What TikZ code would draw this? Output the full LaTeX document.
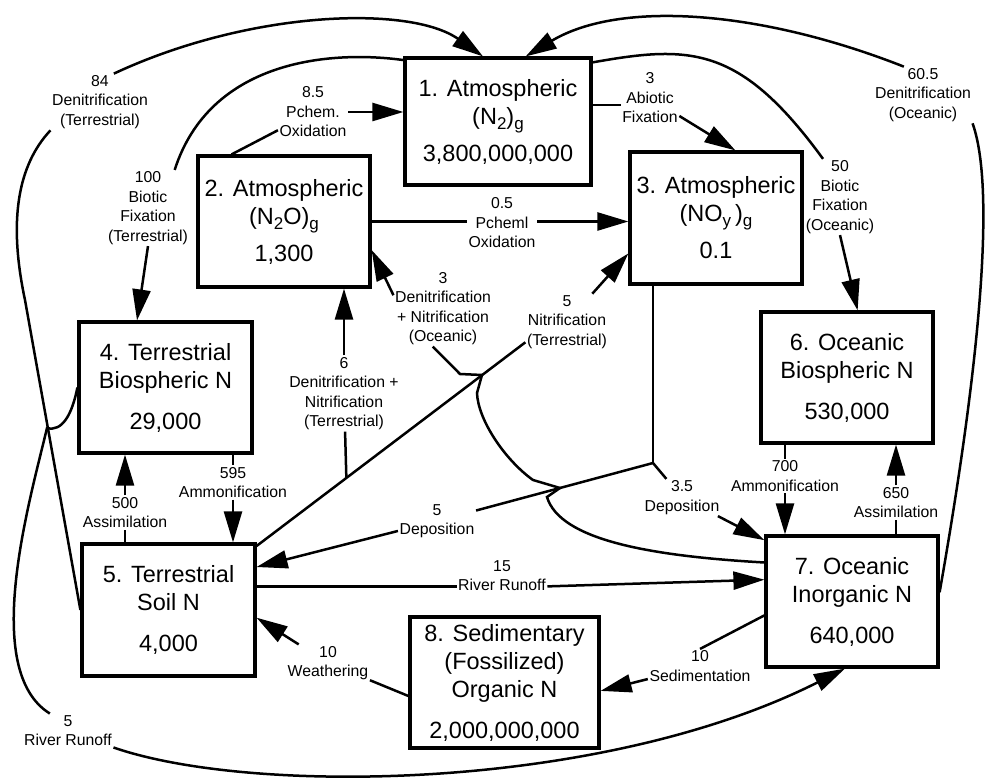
\documentclass[tikz,border=0pt]{standalone}
\usepackage{fontspec}
\setmainfont{Liberation Sans}
\usetikzlibrary{arrows.meta}
\newcommand{\lowsub}[1]{\raisebox{-5pt}{\fontsize{17}{17}\selectfont #1}}

\begin{document}
\begin{tikzpicture}[
    x=1pt, y=-1pt,
    pool/.style={rectangle, draw, line width=3.2pt, align=center, inner sep=0pt,
        minimum width=172pt, minimum height=131pt,
        font=\fontsize{23.5}{28}\selectfont},
    rate/.style={align=center, inner sep=1.5pt, font=\fontsize{15.8}{19.5}\selectfont},
    link/.style={line width=2.5pt},
    arrow/.style={-{Triangle[length=31pt, width=18pt]}, line width=2.5pt}
]
\path[use as bounding box] (0,0) rectangle (986,778);

% Nitrogen pools
\node[pool, minimum width=186pt, minimum height=127pt] (atmN2) at (498,121.5)
    {1. Atmospheric\\(N\lowsub{2})\lowsub{g}\\[9pt]3,800,000,000};
\node[pool] (atmN2O) at (284,221.5)
    {2. Atmospheric\\(N\lowsub{2}O)\lowsub{g}\\[9pt]1,300};
\node[pool, minimum height=132pt] (atmNOy) at (716,218)
    {3. Atmospheric\\(NO\lowsub{y}\,)\lowsub{g}\\[9pt]0.1};
\node[pool, minimum width=173pt] (terBio) at (165.5,387.5)
    {4. Terrestrial\\Biospheric N\\[13pt]29,000};
\node[pool, minimum width=173pt, minimum height=132pt] (terSoil) at (168.5,610)
    {5. Terrestrial\\Soil N\\[13pt]4,000};
\node[pool] (ocBio) at (847,377.5)
    {6. Oceanic\\Biospheric N\\[13pt]530,000};
\node[pool] (ocInorg) at (852,601.5)
    {7. Oceanic\\Inorganic N\\[13pt]640,000};
\node[pool, minimum width=189pt] (sedOrg) at (504.5,682.5)
    {8. Sedimentary\\(Fossilized)\\Organic N\\[13pt]2,000,000,000};

% Flux labels
\node[rate] (l84) at (100,102) {84\\Denitrification\\(Terrestrial)};
\node[rate] (l100) at (148,208) {100\\Biotic\\Fixation\\(Terrestrial)};
\node[rate] (l85) at (313,112) {8.5\\Pchem.\\Oxidation};
\node[rate] (l3a) at (650,98) {3\\Abiotic\\Fixation};
\node[rate] (l605) at (923,95) {60.5\\Denitrification\\(Oceanic)};
\node[rate] (l50) at (840,197) {50\\Biotic\\Fixation\\(Oceanic)};
\node[rate] (l05) at (502,223) {0.5\\Pcheml\\Oxidation};
\node[rate] (l3dn) at (443,308.5) {3\\Denitrification\\+ Nitrification\\(Oceanic)};
\node[rate] (l5n) at (567,322) {5\\Nitrification\\(Terrestrial)};
\node[rate] (l6) at (344,393.5) {6\\Denitrification +\\Nitrification\\(Terrestrial)};
\node[rate] (l500) at (125,512.5) {500\\Assimilation};
\node[rate] (l595) at (233,482.5) {595\\Ammonification};
\node[rate] (l5d) at (437,521) {5\\Deposition};
\node[rate] (l35) at (682,497.5) {3.5\\Deposition};
\node[rate] (l700) at (785,476) {700\\Ammonification};
\node[rate] (l650) at (896,502.5) {650\\Assimilation};
\node[rate] (l15) at (502,575.5) {15\\River Runoff};
\node[rate] (l10w) at (328,663) {10\\Weathering};
\node[rate] (l10s) at (700,666) {10\\Sedimentation};
\node[rate] (l5r) at (68,730.5) {5\\River Runoff};

% Atmospheric fluxes
\draw[link] (atmN2O.128) -- (l85);
\draw[arrow] (l85.east) -- (l85.east -| atmN2.west);
\draw[link] (atmN2O.east) -- (atmN2O.east -| l05.west);
\draw[arrow] (atmN2O.east -| l05.east) -- (atmN2O.east -| atmNOy.west);
\draw[link] (atmN2.10) -- (atmN2.10 -| l3a.west);
\draw[arrow] (l3a) -- (atmNOy.74);

% Fixation and denitrification loops
\draw[link] (atmN2.147) .. controls (330,50) and (210,60) .. (l100.55);
\draw[arrow] (l100.south) -- (terBio.113);
\draw[link] (terSoil.west) -- (25,300) .. controls (8,220) and (18,165) .. (l84.south west);
\draw[arrow] (l84.64) .. controls (250,10) and (410,5) .. (atmN2.103);
\draw[link] (atmN2.32) .. controls (690,45) and (740,45) .. (l50.114);
\draw[arrow] (l50.south) -- (ocBio.81);
\draw[link] (ocInorg.6) .. controls (970,420) and (1000,200) .. (l605.south east);
\draw[arrow] (l605.124) .. controls (760,10) and (620,0) .. (atmN2.67);

% Nitrification
\draw[link] (terSoil.36) -- coordinate[pos=0.334] (j6) (l5n.206);
\draw[arrow] (l5n) -- (atmNOy.202);
\draw[link] (j6) -- (l6);
\draw[arrow] (l6) -- (l6 |- atmN2O.south);
\draw[link] (ocInorg.156) .. controls (650,556) and (560,540) .. (547,497)
    -- (560,488) -- (533,480) .. controls (505,460) and (478,420) .. (477,393)
    -- (482,375) -- (460,374) -- (l3dn.255);
\draw[arrow] (l3dn.165) -- (atmN2O.342);

% Deposition
\coordinate (dep) at (653,463);
\draw[link] (dep |- atmNOy.south) -- (dep);
\draw[link] (dep) -- (l5d);
\draw[arrow] (l5d) -- (terSoil.26);
\draw[link] (dep) -- (l35);
\draw[arrow] (l35) -- (ocInorg.145);

% Land and ocean cycling
\draw[link] (terSoil.north -| l500) -- (l500);
\draw[arrow] (l500) -- (l500 |- terBio.south);
\draw[link] (terBio.south -| l595) -- (l595);
\draw[arrow] (l595) -- (l595 |- terSoil.north);
\draw[link] (ocBio.south -| l700) -- (l700);
\draw[arrow] (l700) -- (l700 |- ocInorg.north);
\draw[link] (ocInorg.north -| l650) -- (l650);
\draw[arrow] (l650) -- (l650 |- ocBio.south);

% Runoff, weathering, sedimentation
\draw[link] (terSoil.15) -- (terSoil.15 -| l15.west);
\draw[arrow] (terSoil.15 -| l15.east) -- (ocInorg.166);
\draw[link] (terBio.west) .. controls (72,415) and (62,432) .. (47,428)
    .. controls (30,500) and (-20,670) .. (l5r.137);
\draw[arrow] (l5r.south east) .. controls (250,795) and (600,792) .. (ocInorg.264);
\draw[link] (sedOrg.188) -- (l10w);
\draw[arrow] (l10w) -- (terSoil.355);
\draw[link] (ocInorg.189) -- (l10s.north);
\draw[arrow] (l10s) -- (sedOrg.355);

\end{tikzpicture}
\end{document}
